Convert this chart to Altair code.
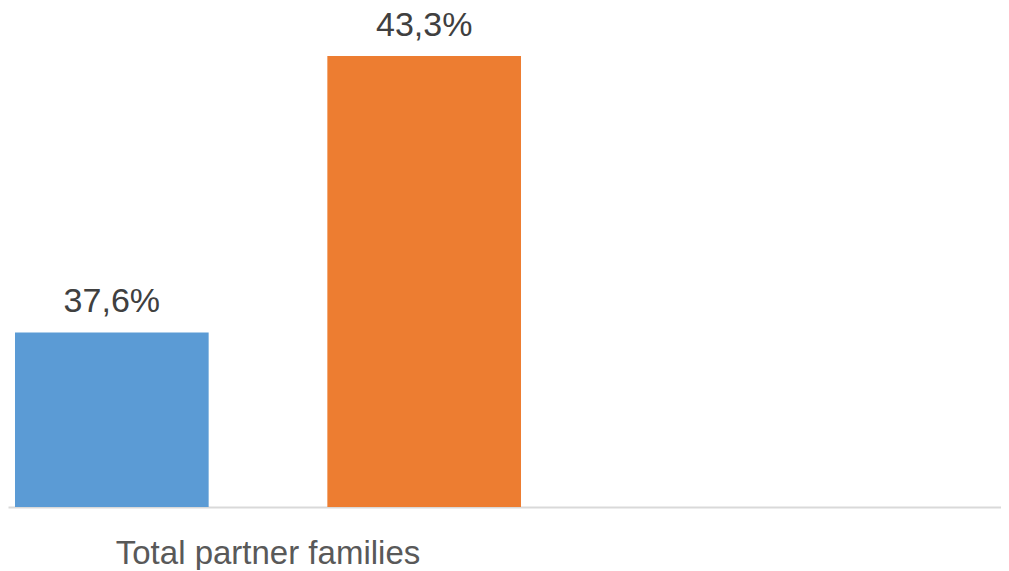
import altair as alt
import pandas as pd

category = ["Total partner families", "Total partner families"]
series = ["A", "B"]
values = [37.6, 43.3]
labels = ["37,6%", "43,3%"]
colors = ["#5B9BD5", "#ED7D31"]

df = pd.DataFrame({"cat": category, "series": series, "value": values, "label": labels})

x = alt.X("cat:N", title=None,
          scale=alt.Scale(paddingInner=0, paddingOuter=0.4548, align=0),
          axis=alt.Axis(labelAngle=0, ticks=False, domainColor="#d9d9d9", domainWidth=2,
                        labelFont="Liberation Sans", labelFontSize=33, labelColor="#595959",
                        labelBaseline="alphabetic", labelPadding=56, labelLimit=0, grid=False))
xo = alt.XOffset("series:N", scale=alt.Scale(paddingInner=0.38, paddingOuter=0.0224))
y = alt.Y("value:Q", title=None, scale=alt.Scale(domain=[34, 44.29], nice=False, zero=False),
          axis=None)

bars = alt.Chart(df).mark_bar(clip=True).encode(
    x=x, xOffset=xo, y=y,
    color=alt.Color("series:N", scale=alt.Scale(domain=series, range=colors), legend=None),
)
text = alt.Chart(df).mark_text(font="Liberation Sans", fontSize=34, color="#404040",
                               baseline="alphabetic", dy=-20).encode(
    x=x, xOffset=xo, y=y, text="label:N"
)

chart = alt.layer(bars, text).properties(width=993, height=499, padding=0).configure_view(stroke=None)
chart.save("out.html", embed_options={"renderer": "svg", "actions": False})
